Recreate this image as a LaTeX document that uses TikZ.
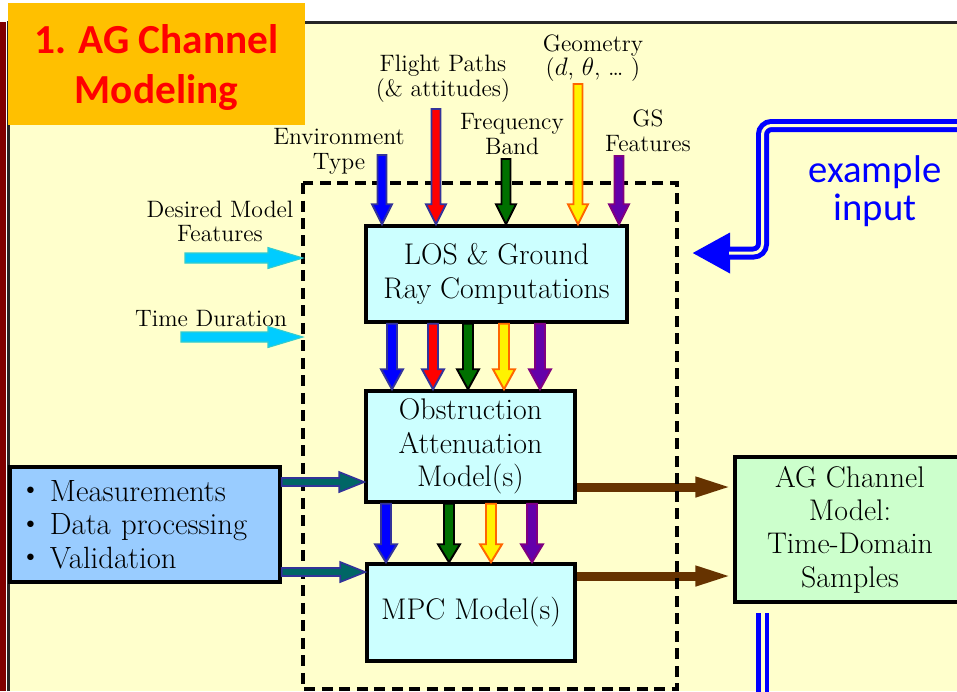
\documentclass[tikz,border=0pt]{standalone}
\usepackage{fontspec}
\newfontfamily\carlito{Carlito}
\usetikzlibrary{arrows.meta, calc}

\definecolor{cream}{HTML}{FFFFCC}
\definecolor{darkred}{HTML}{800000}
\definecolor{titleorange}{HTML}{FFC000}
\definecolor{boxcyan}{HTML}{CCFFFF}
\definecolor{boxblue}{HTML}{99CCFF}
\definecolor{boxgreen}{HTML}{CCFFCC}
\definecolor{navy}{HTML}{333399}
\definecolor{skyfill}{HTML}{00CCFF}
\definecolor{skyline}{HTML}{33CCCC}
\definecolor{tealfill}{HTML}{006666}
\definecolor{chestnut}{HTML}{663300}
\definecolor{leaf}{HTML}{007000}
\definecolor{amber}{HTML}{FF6600}
\definecolor{gsfill}{HTML}{6400AA}
\definecolor{gsline}{HTML}{800080}

% block arrow drawn as an outlined polygon between two points
\tikzset{
  shaft/.store in=\arrshaft, headw/.store in=\arrheadw, headl/.store in=\arrheadl,
  shaft=0.18cm, headw=0.4cm, headl=0.4cm,
  blockarrow/.style={line width=1.1pt, line join=miter, to path={
    let \p1=(\tikztostart), \p2=(\tikztotarget),
        \n1={atan2(\y2-\y1,\x2-\x1)}, \n2={veclen(\x2-\x1,\y2-\y1)-\arrheadl} in
    ([shift={(\p1)}, rotate=\n1] 0pt, {0.5*\arrshaft})
    -- ([shift={(\p1)}, rotate=\n1] {\n2*1pt}, {0.5*\arrshaft})
    -- ([shift={(\p1)}, rotate=\n1] {\n2*1pt}, {0.5*\arrheadw})
    -- (\p2)
    -- ([shift={(\p1)}, rotate=\n1] {\n2*1pt}, {-0.5*\arrheadw})
    -- ([shift={(\p1)}, rotate=\n1] {\n2*1pt}, {-0.5*\arrshaft})
    -- ([shift={(\p1)}, rotate=\n1] 0pt, {-0.5*\arrshaft})
    -- cycle}}
}

\newcommand\blt{\raisebox{0.22em}{\scalebox{0.55}{$\bullet$}}\enspace}

\begin{document}
\begin{tikzpicture}[x=0.02cm, y=-0.02cm,
    modelbox/.style={draw, line width=2pt, fill=boxcyan, align=center, inner sep=0pt,
      font=\fontsize{17}{19}\selectfont},
    lbl/.style={align=center, font=\fontsize{13.5}{14}\selectfont},
    skyarrow/.style={blockarrow, fill=skyfill, draw=skyline, line width=0.6pt,
      shaft=0.2cm, headw=0.42cm, headl=0.7cm},
    tealarrow/.style={blockarrow, fill=tealfill, draw=navy, line width=0.9pt,
      shaft=0.16cm, headw=0.4cm, headl=0.5cm},
    brownarrow/.style={chestnut, line width=0.18cm, -{Triangle[length=0.76cm, width=0.36cm]}},
    groupbox/.style={line width=2pt, dash pattern=on 0.22cm off 0.13cm}]

  % page background and frame
  \useasboundingbox (0,0) rectangle (957,691);
  \clip (0,0) rectangle (957,691);
  \fill[white] (0,0) rectangle (957,691);
  \fill[cream] (9,23) rectangle (957,691);
  \fill[darkred] (0,22) rectangle (5.5,691);
  \draw[black!85, line width=1.2pt] (8.5,691) -- (8.5,22.5) -- (957,22.5);

  % title
  \node[fill=titleorange, minimum width=5.94cm, minimum height=2.44cm, inner sep=0pt,
    align=center, text=red, text depth=0pt, font=\carlito\bfseries\fontsize{23.5}{28.5}\selectfont]
    (title) at (156.5,64) {1. AG Channel\\Modeling};

  % model blocks
  \node[modelbox, minimum width=5.22cm, minimum height=1.92cm] (los) at (496.5,274)
    {LOS \& Ground\\Ray Computations};
  \node[modelbox, minimum width=4.18cm, minimum height=2.22cm] (obs) at (470.5,446.5)
    {Obstruction\\Attenuation\\Model(s)};
  \node[modelbox, minimum width=4.16cm, minimum height=1.94cm] (mpc) at (471,612.5)
    {MPC Model(s)};
  \node[modelbox, fill=boxblue, align=left, text width=4.75cm, minimum width=5.4cm, minimum height=2.3cm,
    font=\fontsize{17.5}{19}\selectfont] (meas) at (145,524.5)
    {\blt Measurements\\\blt Data processing\\\blt Validation};
  \node[modelbox, fill=boxgreen, minimum width=4.6cm, minimum height=2.9cm] (agm) at (850,529.5)
    {AG Channel\\Model:\\Time-Domain\\Samples};

  % input labels
  \node[lbl] (envlbl) at (339,151.5) {Environment\\Type};
  \node[lbl] (fltlbl) at (443,78.5) {Flight Paths\\(\& attitudes)};
  \node[lbl] (frqlbl) at (512,134) {Frequency\\Band};
  \node[lbl] (geolbl) at (593,58) {Geometry\\($d$, $\theta$, \dots{} )};
  \node[lbl] (gslbl) at (648,131) {GS\\Features};
  \node[lbl] (featlbl) at (220,221.5) {Desired Model\\Features};
  \node[lbl] (timelbl) at (211,318.5) {Time Duration};
  \node[text=blue, align=center, font=\carlito\fontsize{22}{21.5}\selectfont] (exlbl)
    at (875,191.5) {example\\input};

  % helper points
  \coordinate (envin) at (382,155);
  \coordinate (fltin) at (436,109);
  \coordinate (frqin) at (506,159);
  \coordinate (geoin) at (578,84);
  \coordinate (gsin) at (619,156);
  \coordinate (featin) at (185,258);
  \coordinate (timein) at (181,337);
  \coordinate (grpnw) at (303,183);
  \coordinate (grpse) at (677,689);
  \path (0,482) coordinate (r1) (0,572) coordinate (r2)
        (0,487) coordinate (b1) (0,576) coordinate (b2);

  % outputs to the channel model
  \draw[brownarrow] (obs.east |- b1) -- (agm.west |- b1);
  \draw[brownarrow] (mpc.east |- b2) -- (agm.west |- b2);

  % dashed group
  \draw[groupbox] (grpnw) rectangle (grpse);

  % inputs from the top
  \draw[blockarrow, fill=blue, draw=navy] (envin) to (envin |- los.north);
  \draw[blockarrow, fill=red, draw=navy] (fltin) to (fltin |- los.north);
  \draw[blockarrow, fill=leaf, draw=black] (frqin) to (frqin |- los.north);
  \draw[blockarrow, fill=yellow, draw=amber] (geoin) to (geoin |- los.north);
  \draw[blockarrow, fill=gsfill, draw=gsline] (gsin) to (gsin |- los.north);

  % passed down the chain
  \foreach \cx/\fc/\lc in {392/blue/navy, 433/red/navy, 468/leaf/black, 504/yellow/amber, 540/gsfill/gsline}
    \draw[blockarrow, shaft=0.2cm, headw=0.44cm, fill=\fc, draw=\lc] (los.south -| \cx,0) to (obs.north -| \cx,0);
  \foreach \cx/\fc/\lc in {386/blue/navy, 449/leaf/black, 491/yellow/amber, 532/gsfill/gsline}
    \draw[blockarrow, shaft=0.2cm, headw=0.44cm, headl=0.36cm, fill=\fc, draw=\lc] (obs.south -| \cx,0) to (mpc.north -| \cx,0);

  % side inputs
  \draw[skyarrow] (featin) to (featin -| grpnw);
  \draw[skyarrow] (timein) to (timein -| grpnw);
  \draw[tealarrow] (meas.east |- r1) to (obs.west |- r1);
  \draw[tealarrow] (meas.east |- r2) to (mpc.west |- r2);

  % example input feed
  \coordinate (exin) at (975,125.5);
  \coordinate (exbend) at (762.5,253);
  \coordinate (exout) at (692,253);
  \coordinate (exdown) at (762.5,613);
  \draw[blue, line width=0.26cm, rounded corners=0.18cm, -{Triangle[length=0.76cm, width=0.76cm]}]
    (exin) -| (exbend) -- (exout);
  \draw[cream, line width=0.06cm, rounded corners=0.18cm, shorten >=0.74cm]
    (exin) -| (exbend) -- (exout);
  \draw[blue, line width=0.26cm] (exdown) -- ++(0,100);
  \draw[cream, line width=0.08cm] (exdown) -- ++(0,100);
\end{tikzpicture}
\end{document}
